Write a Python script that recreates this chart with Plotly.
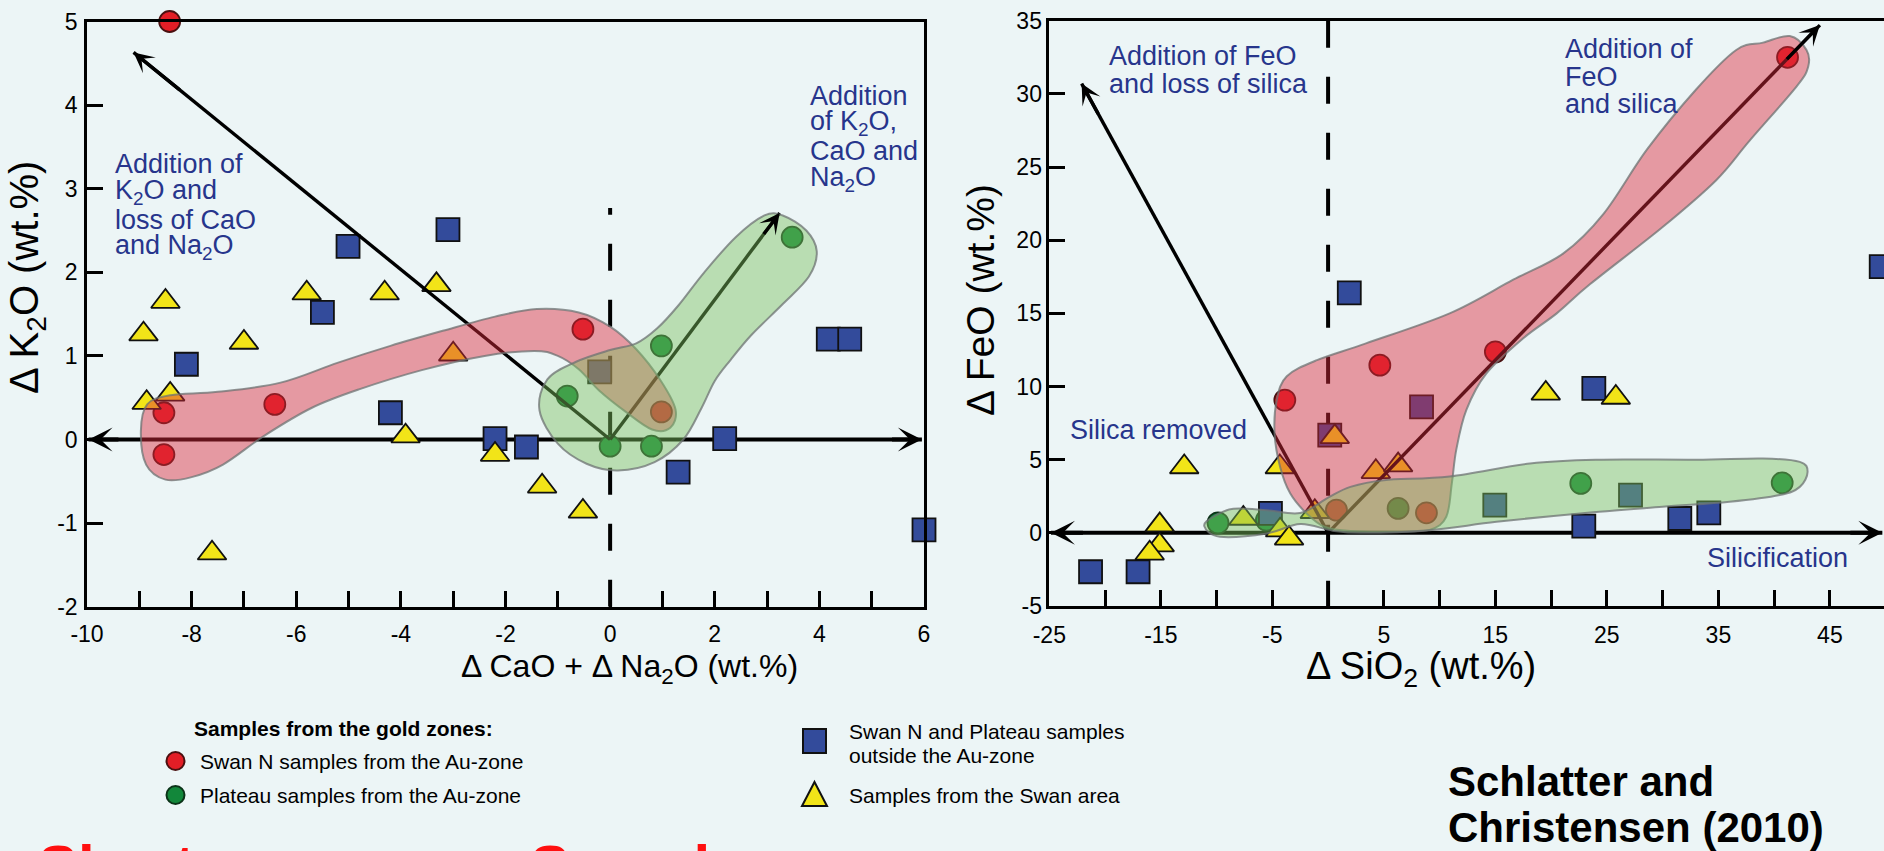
import plotly.graph_objects as go

W, H = 1884, 851
BG = "#ECF5F6"
TXT_BLUE = "#27358C"
FONT = "Liberation Sans, Arial, sans-serif"
NARROW = "Liberation Sans Narrow, Liberation Sans, Arial, sans-serif"

# ---------------- data: left panel (ΔCaO+ΔNa2O vs ΔK2O) ----------------
L_swan_x = [-8.42, -0.52, -6.41, -8.53, -8.53, 0.98]
L_swan_y = [5.0, 1.32, 0.42, 0.32, -0.18, 0.33]
L_plat_x = [3.48, 0.98, -0.82, 0.0, 0.79]
L_plat_y = [2.42, 1.12, 0.52, -0.08, -0.08]
L_out_x = [-5.01, -3.1, -5.5, -8.1, -4.2, -2.2, -1.6, -0.2, 2.19, 1.3, 4.17, 4.58, 6.0]
L_out_y = [2.31, 2.51, 1.52, 0.9, 0.32, 0.01, -0.09, 0.81, 0.01, -0.39, 1.2, 1.2, -1.08]
L_area_x = [-8.92, -8.5, -7.0, -7.61, -8.86, -8.41, -5.8, -4.31, -3.32, -3.0, -3.91, -2.2, -1.3, -0.52]
L_area_y = [1.26, 1.65, 1.16, -1.36, 0.44, 0.54, 1.75, 1.75, 1.85, 1.02, 0.04, -0.18, -0.56, -0.86]

# ---------------- data: right panel (ΔSiO2 vs ΔFeO) ----------------
R_swan_x = [41.2, 15.0, 4.64, -3.88, 0.75, 8.82]
R_swan_y = [32.5, 12.37, 11.46, 9.07, 1.55, 1.37]
R_plat_x = [40.72, 22.66, -5.53, -9.87, 6.28]
R_plat_y = [3.42, 3.38, 0.87, 0.68, 1.67]
R_out_x = [1.9, 23.83, 8.38, 0.15, 14.95, 27.12, 22.93, 31.54, 34.14, -5.17, -21.3, -17.04, 49.6]
R_out_y = [16.4, 9.87, 8.61, 6.68, 1.89, 2.58, 0.46, 0.98, 1.37, 1.33, -2.66, -2.66, 18.2]
R_area_x = [19.52, 25.8, -12.9, -4.33, 0.6, 4.28, 6.28, -15.1, -15.1, -16.0, -7.6, -4.3, -3.5, -1.19]
R_area_y = [9.53, 9.25, 4.5, 4.5, 6.56, 4.17, 4.63, 0.53, -0.84, -1.4, 0.98, 0.18, -0.38, 1.44]

# vector (trend) arrows: end points, all start at the origin
L_vec_ends = [(-9.11, 4.63), (3.24, 2.71)]
R_vec_ends = [(-22.1, 30.7), (44.1, 34.7)]
L_hline = (-9.97, 5.96)
R_hline = (-24.85, 49.7)

# field outlines (data coordinates)
L_red_field = [(-8.97, 0.1), (-8.85, 0.42), (-8.4, 0.53), (-7.5, 0.57), (-6.3, 0.68), (-5.2, 0.92),
               (-4.2, 1.12), (-3.2, 1.3), (-2.2, 1.47), (-1.4, 1.56), (-0.6, 1.52), (0.0, 1.35),
               (0.5, 1.08), (0.95, 0.72), (1.25, 0.36), (1.15, 0.14), (0.8, 0.12), (0.3, 0.33),
               (-0.2, 0.58), (-0.6, 0.84), (-1.0, 1.0), (-1.45, 1.06), (-2.4, 1.0), (-3.6, 0.83),
               (-4.8, 0.6), (-5.7, 0.38), (-6.6, 0.05), (-7.4, -0.3), (-8.0, -0.45), (-8.5, -0.48),
               (-8.87, -0.3)]
L_green_field = [(3.3, 2.68), (3.75, 2.5), (3.95, 2.25), (3.8, 1.95), (3.3, 1.62), (2.7, 1.25),
                 (2.3, 0.95), (2.0, 0.7), (1.75, 0.38), (1.4, 0.0), (0.85, -0.27), (0.15, -0.37),
                 (-0.45, -0.29), (-1.0, -0.05), (-1.35, 0.35), (-1.2, 0.72), (-0.65, 0.93),
                 (0.0, 1.07), (0.5, 1.15), (0.9, 1.33), (1.3, 1.6), (1.8, 2.0), (2.4, 2.42), (2.95, 2.68)]
R_red_field = [(14.2, 10.9), (17.5, 13.3), (20.5, 15.0), (23.5, 17.0), (30.0, 20.9), (34.8, 24.1),
               (37.8, 26.8), (42.0, 30.5), (43.05, 31.85), (42.9, 33.0), (41.4, 33.95), (39.0, 33.5),
               (36.6, 33.0), (33.0, 30.3), (28.6, 26.2), (24.7, 21.8), (21.1, 19.1), (16.6, 17.3),
               (10.9, 15.0), (3.4, 12.95), (-1.0, 11.8), (-3.7, 10.7), (-4.6, 9.1), (-4.8, 6.8),
               (-4.3, 4.5), (-3.4, 2.7), (-1.9, 1.3), (-0.3, 0.4), (2.0, 0.12), (6.0, 0.08),
               (9.1, 0.2), (10.6, 1.1), (11.1, 3.4), (11.5, 5.7), (12.4, 8.4)]
R_green_field = [(-11.1, 0.45), (-10.3, 1.1), (-8.5, 1.65), (-5.5, 1.55), (-2.5, 1.35), (0.0, 2.4),
                 (2.0, 3.14), (5.0, 3.6), (10.9, 3.85), (18.1, 4.74), (24.0, 5.0), (33.0, 5.0),
                 (39.0, 5.08), (42.3, 4.85), (43.0, 4.17), (42.3, 3.14), (40.5, 2.58), (36.0, 2.12),
                 (30.0, 1.78), (22.6, 1.33), (15.1, 0.75), (9.1, 0.18), (3.0, 0.0), (0.4, 0.15),
                 (-2.5, 0.6), (-5.5, -0.04), (-9.7, -0.27)]

# tick values and labels
L_xtick_vals = list(range(-10, 7))
L_xtick_text = ["-10", "", "-8", "", "-6", "", "-4", "", "-2", "", "0", "", "2", "", "4", "", "6"]
L_ytick_vals = list(range(-2, 6))
L_ytick_text = ["-2", "-1", "0", "1", "2", "3", "4", "5"]
R_xtick_vals = list(range(-25, 50, 5))
R_xtick_text = ["-25", "", "-15", "", "-5", "", "5", "", "15", "", "25", "", "35", "", "45"]
R_ytick_vals = list(range(-5, 40, 5))
R_ytick_text = ["-5", "0", "5", "10", "15", "20", "25", "30", "35"]

# ---------------- styles ----------------
C_RED, C_GREEN, C_BLUE, C_YEL = "#E31E26", "#12873A", "#334B9B", "#F2E418"
classes = [
    ("Swan N samples from the Au-zone", "circle", C_RED, 21, "#4a1010"),
    ("Plateau samples from the Au-zone", "circle", C_GREEN, 21, "#0b3318"),
    ("Swan N and Plateau samples outside the Au-zone", "square", C_BLUE, 23, "#111111"),
    ("Samples from the Swan area", "triangle-up", C_YEL, 25, "#111111"),
]
L_sets = [(L_swan_x, L_swan_y), (L_plat_x, L_plat_y), (L_out_x, L_out_y), (L_area_x, L_area_y)]
R_sets = [(R_swan_x, R_swan_y), (R_plat_x, R_plat_y), (R_out_x, R_out_y), (R_area_x, R_area_y)]

fig = go.Figure()

def px2paper(x, y):
    return x / W, 1 - y / H

# baseline lines (under markers)
fig.add_trace(go.Scatter(x=[L_hline[0], L_hline[1]], y=[0, 0], mode="lines",
                         line=dict(color="black", width=4), xaxis="x", yaxis="y",
                         showlegend=False, hoverinfo="skip"))
fig.add_trace(go.Scatter(x=[0, 0], y=[-2, 2.77], mode="lines",
                         line=dict(color="black", width=4, dash="27px,29px"), xaxis="x", yaxis="y",
                         showlegend=False, hoverinfo="skip"))
fig.add_trace(go.Scatter(x=[R_hline[0], R_hline[1]], y=[0, 0], mode="lines",
                         line=dict(color="black", width=4), xaxis="x2", yaxis="y2",
                         showlegend=False, hoverinfo="skip"))
fig.add_trace(go.Scatter(x=[0, 0], y=[35, -5], mode="lines",
                         line=dict(color="black", width=4, dash="27px,29px"), xaxis="x2", yaxis="y2",
                         showlegend=False, hoverinfo="skip"))

# samples
for (name, sym, col, size, lc), (lx, ly), (rx, ry) in zip(classes, L_sets, R_sets):
    for xs, ys, xa, ya in [(lx, ly, "x", "y"), (rx, ry, "x2", "y2")]:
        fig.add_trace(go.Scatter(x=xs, y=ys, mode="markers", name=name, xaxis=xa, yaxis=ya,
                                 marker=dict(symbol=sym, size=size, color=col,
                                             line=dict(color=lc, width=1.8)),
                                 cliponaxis=False, showlegend=False))

# diagonal vector lines (above markers)
for ends, xa, ya in [(L_vec_ends, "x", "y"), (R_vec_ends, "x2", "y2")]:
    for ex, ey in ends:
        fig.add_trace(go.Scatter(x=[0, ex], y=[0, ey], mode="lines", xaxis=xa, yaxis=ya,
                                 line=dict(color="black", width=3.4), showlegend=False,
                                 hoverinfo="skip", cliponaxis=False))

def smooth_path(pts):
    n = len(pts)
    s = f"M {pts[0][0]},{pts[0][1]}"
    for i in range(n):
        p0, p1, p2, p3 = pts[i - 1], pts[i], pts[(i + 1) % n], pts[(i + 2) % n]
        c1 = (p1[0] + (p2[0] - p0[0]) / 6, p1[1] + (p2[1] - p0[1]) / 6)
        c2 = (p2[0] - (p3[0] - p1[0]) / 6, p2[1] - (p3[1] - p1[1]) / 6)
        s += f" C {c1[0]:.4f},{c1[1]:.4f} {c2[0]:.4f},{c2[1]:.4f} {p2[0]:.4f},{p2[1]:.4f}"
    return s + " Z"

shapes = []
for pts, xr, yr, fill in [(L_red_field, "x", "y", "rgba(222,42,60,0.45)"),
                          (L_green_field, "x", "y", "rgba(125,192,95,0.45)"),
                          (R_red_field, "x2", "y2", "rgba(222,42,60,0.45)"),
                          (R_green_field, "x2", "y2", "rgba(125,192,95,0.45)")]:
    shapes.append(dict(type="path", path=smooth_path(pts), xref=xr, yref=yr, layer="above",
                       fillcolor=fill, line=dict(color="rgba(110,115,115,0.75)", width=2)))

annotations = []

def arrowhead(x, y, bx, by, xr, yr, w):
    annotations.append(dict(x=x, y=y, ax=bx, ay=by, xref=xr, yref=yr, axref=xr, ayref=yr,
                            text="", showarrow=True, arrowhead=3, arrowsize=1.0,
                            arrowwidth=w, arrowcolor="black"))

for ex, ey in L_vec_ends:
    arrowhead(ex, ey, ex * 0.9, ey * 0.9, "x", "y", 3.4)
for ex, ey in R_vec_ends:
    arrowhead(ex, ey, ex * 0.93, ey * 0.93, "x2", "y2", 3.4)
arrowhead(L_hline[0], 0, L_hline[0] + 0.6, 0, "x", "y", 4)
arrowhead(L_hline[1], 0, L_hline[1] - 0.6, 0, "x", "y", 4)
arrowhead(R_hline[0], 0, R_hline[0] + 3, 0, "x2", "y2", 4)
arrowhead(R_hline[1], 0, R_hline[1] - 3, 0, "x2", "y2", 4)

def text_lines(xpx, centers, lines, size, color=TXT_BLUE, bold=False, anchor="left", family=FONT):
    for c, t in zip(centers, lines):
        xp, yp = px2paper(xpx, c)
        if bold:
            t = "<b>" + t + "</b>"
        annotations.append(dict(x=xp, y=yp, xref="paper", yref="paper", text=t, showarrow=False,
                                xanchor=anchor, yanchor="middle",
                                font=dict(family=family, size=size, color=color)))

text_lines(113, [163.5, 191.5, 219.5, 247.5],
           ["Addition of", "K<sub>2</sub>O and", "loss of CaO", "and Na<sub>2</sub>O"], 27)
text_lines(808, [96, 123, 151, 179],
           ["Addition", "of K<sub>2</sub>O,", "CaO and", "Na<sub>2</sub>O"], 27)
text_lines(1107, [56, 83.5], ["Addition of FeO", "and loss of silica"], 27)
text_lines(1563, [49, 77, 104], ["Addition of", "FeO", "and silica"], 27)
text_lines(1068, [430], ["Silica removed"], 27)
text_lines(1705, [558], ["Silicification"], 27)

# axis titles
def title(xpx, ypx, t, size, rot=0):
    xp, yp = px2paper(xpx, ypx)
    annotations.append(dict(x=xp, y=yp, xref="paper", yref="paper", text=t, showarrow=False,
                            xanchor="center", yanchor="middle", textangle=rot,
                            font=dict(family=FONT, size=size, color="black")))

title(629, 668, "Δ CaO + Δ Na<sub>2</sub>O (wt.%)", 32)
title(1421, 669, "Δ SiO<sub>2</sub> (wt.%)", 38)
title(27, 278, "Δ K<sub>2</sub>O (wt.%)", 40, -90)
title(980, 300, "Δ FeO (wt.%)", 39, -90)

# legend (drawn by hand, like the original figure)
text_lines(192, [728], ["Samples from the gold zones:"], 21, "black", bold=True)
text_lines(198, [761, 795], [classes[0][0], classes[1][0]], 21, "black")
text_lines(847, [731, 755], ["Swan N and Plateau samples", "outside the Au-zone"], 21, "black")
text_lines(847, [795], [classes[3][0]], 21, "black")
text_lines(1446, [781, 827], ["Schlatter and", "Christensen (2010)"], 42, "black", bold=True)
text_lines(36, [866], ["Short summary"], 60, "#FF1010", bold=True)
text_lines(528, [866], ["Samples"], 60, "#FF1010", bold=True)

def key_circle(cx, cy, r, col, lc):
    x0, y0 = px2paper(cx - r, cy - r)
    x1, y1 = px2paper(cx + r, cy + r)
    shapes.append(dict(type="circle", xref="paper", yref="paper", x0=x0, x1=x1, y0=y1, y1=y0,
                       fillcolor=col, line=dict(color=lc, width=2)))

key_circle(175.5, 761, 9, C_RED, "#4a1010")
key_circle(175.5, 795, 9, C_GREEN, "#0b3318")
x0, y0 = px2paper(803, 729)
x1, y1 = px2paper(826, 753)
shapes.append(dict(type="rect", xref="paper", yref="paper", x0=x0, x1=x1, y0=y1, y1=y0,
                   fillcolor=C_BLUE, line=dict(color="#111", width=2)))
tp = [px2paper(814.5, 782), px2paper(827, 806), px2paper(802, 806)]
shapes.append(dict(type="path", xref="paper", yref="paper",
                   path=f"M {tp[0][0]},{tp[0][1]} L {tp[1][0]},{tp[1][1]} L {tp[2][0]},{tp[2][1]} Z",
                   fillcolor=C_YEL, line=dict(color="#111", width=2)))

axis_common = dict(showgrid=False, zeroline=False, showline=True, linecolor="black",
                   linewidth=2.5, ticks="inside", ticklen=16, tickwidth=2.5, tickcolor="black",
                   automargin=False, tickmode="array")

fig.update_layout(
    template="none",
    width=W, height=H, margin=dict(l=0, r=0, t=0, b=0, pad=0), autosize=False,
    paper_bgcolor=BG, plot_bgcolor=BG, showlegend=False,
    xaxis=dict(domain=[87 / W, 924 / W], range=[-10, 6], tickvals=L_xtick_vals,
               ticktext=L_xtick_text, mirror=True, anchor="y", ticklabelstandoff=5,
               tickfont=dict(family=FONT, size=23, color="black"), **axis_common),
    yaxis=dict(domain=[1 - 606.7 / H, 1 - 21.5 / H], range=[-2, 5], tickvals=L_ytick_vals,
               ticktext=L_ytick_text, mirror=True, anchor="x", ticklabelstandoff=2,
               tickfont=dict(family=FONT, size=23, color="black"), **axis_common),
    xaxis2=dict(domain=[1049.3 / W, 1.0], range=[-25, 49.85], tickvals=R_xtick_vals,
                ticktext=R_xtick_text, mirror=True, anchor="y2", ticklabelstandoff=7,
                tickfont=dict(family=NARROW, size=23, color="black"), **axis_common),
    yaxis2=dict(domain=[1 - 606 / H, 1 - 20.7 / H], range=[-5, 35], tickvals=R_ytick_vals,
                ticktext=R_ytick_text, mirror=False, anchor="x2", ticklabelstandoff=0,
                tickfont=dict(family=NARROW, size=23, color="black"), **axis_common),
    shapes=shapes, annotations=annotations,
)

fig.write_html("out.html", config={"displayModeBar": False},
               post_script="document.body.style.margin='0px';"
                           "document.body.style.overflow='hidden';")
